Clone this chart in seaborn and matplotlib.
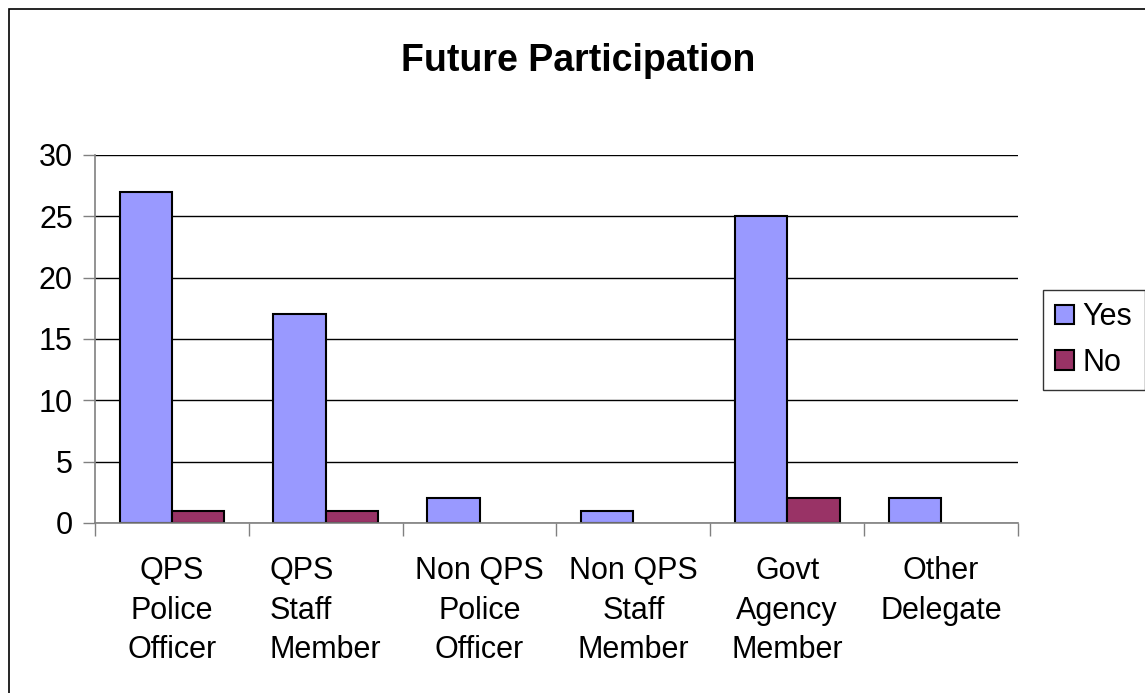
import matplotlib
matplotlib.use("Agg")
import matplotlib.pyplot as plt
import seaborn as sns
import pandas as pd
import numpy as np
from matplotlib.patches import Rectangle

categories = ["QPS\nPolice\nOfficer", "QPS\nStaff\nMember", "Non QPS\nPolice\nOfficer",
              "Non QPS\nStaff\nMember", "Govt\nAgency\nMember", "Other\nDelegate"]
yes_values = [27, 17, 2, 1, 25, 2]
no_values = [1, 1, 0, 0, 2, 0]
series = ["Yes", "No"]
colors = ["#9999FF", "#993366"]
yticks = [0, 5, 10, 15, 20, 25, 30]

df = pd.DataFrame({
    "cat": categories * 2,
    "val": yes_values + no_values,
    "series": ["Yes"] * len(categories) + ["No"] * len(categories),
})

sns.set_style("white")
plt.rcParams["font.family"] = ["Liberation Sans", "DejaVu Sans"]
plt.rcParams["text.color"] = "black"
plt.rcParams["xtick.labelcolor"] = "black"
plt.rcParams["ytick.labelcolor"] = "black"

fig = plt.figure(figsize=(11.45, 6.93), dpi=100)
ax = fig.add_axes([95 / 1145, 1 - 523 / 693, (1018 - 95) / 1145, (523 - 155) / 693])

sns.barplot(data=df, x="cat", y="val", hue="series", hue_order=series,
            palette=colors, width=0.68, gap=0, edgecolor="black", linewidth=1.5,
            saturation=1, ax=ax, legend=True)

# hide outlines of zero-height bars
for p in ax.patches:
    if p.get_height() == 0:
        p.set_linewidth(0)

ax.set_ylim(0, 30)
ax.set_xlim(-0.5, len(categories) - 0.5)
ax.set_yticks(yticks)
ax.yaxis.grid(True, color="black", linewidth=1)
ax.set_axisbelow(True)
ax.set_xlabel("")
ax.set_ylabel("")
for s in ["top", "right"]:
    ax.spines[s].set_visible(False)
for s in ["left", "bottom"]:
    ax.spines[s].set_color("#808080")
    ax.spines[s].set_linewidth(1.2)

ax.tick_params(axis="y", length=9, width=1, color="#808080", labelcolor="black",
               labelsize=22, pad=7, left=True)
ax.set_xticks(range(len(categories)))
ax.set_xticklabels(categories, fontsize=22, linespacing=1.4, color="black")
ax.tick_params(axis="x", which="major", length=0, pad=24)
ax.set_xticks(np.arange(-0.5, len(categories), 1.0), minor=True)
ax.tick_params(axis="x", which="minor", length=9, width=1, color="#808080", bottom=True)
for i, lab in enumerate(ax.get_xticklabels()):
    if i == 1:
        lab.set_multialignment("left")

ax.get_legend().remove()
handles = [Rectangle((0, 0), 1, 1, facecolor=c, edgecolor="black", linewidth=1.5) for c in colors]
leg = fig.legend(handles, series, loc="center left", bbox_to_anchor=(1043 / 1145, 1 - 340 / 693),
                 fontsize=22, frameon=True, fancybox=False, edgecolor="black",
                 handlelength=0.6, handleheight=0.6, handletextpad=0.3, labelspacing=0.5,
                 borderpad=0.4, borderaxespad=0, labelcolor="black")
leg.get_frame().set_linewidth(1)

fig.text(578 / 1145, 1 - 61 / 693, "Future Participation", fontsize=27, fontweight="bold",
         ha="center", va="center", color="black")

fig.patches.append(Rectangle((9 / 1145, -0.1), 1.2, 1 - 9 / 693 + 0.1, transform=fig.transFigure,
                             fill=False, edgecolor="black", linewidth=1.2))

fig.savefig("out.png", dpi=100)
